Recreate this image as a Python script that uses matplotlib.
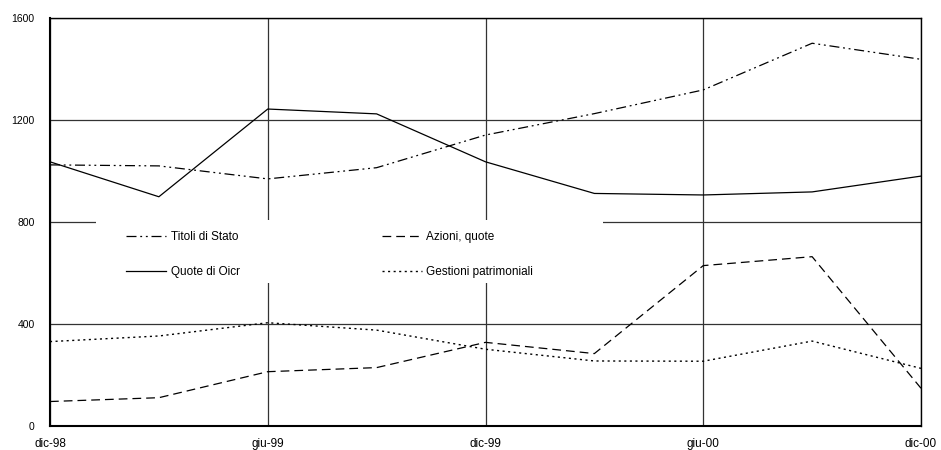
import matplotlib
matplotlib.use("Agg")
import matplotlib.pyplot as plt
from matplotlib.patches import Rectangle

# quarterly observations, dic-98 .. dic-00
quarters = ["dic-98", "mar-99", "giu-99", "set-99", "dic-99",
            "mar-00", "giu-00", "set-00", "dic-00"]
tick_labels = ["dic-98", "giu-99", "dic-99", "giu-00", "dic-00"]

titoli_stato = [1024, 1020, 969, 1013, 1141, 1225, 1318, 1501, 1438]
azioni_quote = [96, 111, 213, 229, 328, 284, 629, 664, 148]
quote_oicr = [1036, 899, 1243, 1224, 1036, 912, 906, 918, 980]
gestioni = [331, 353, 405, 376, 301, 255, 254, 333, 226]

plt.rcParams["font.family"] = ["Liberation Sans", "DejaVu Sans"]

W, H = 941, 450
fig = plt.figure(figsize=(W / 100, H / 100), dpi=100)
ax_l, ax_b, ax_w, ax_h = 50, 24, 871, 408
ax = fig.add_axes([ax_l / W, ax_b / H, ax_w / W, ax_h / H])


def to_axes(px, py):
    # pixel position (top-left origin) -> axes fraction
    return (px - ax_l) / ax_w, (H - ax_b - py) / ax_h


x = list(range(len(quarters)))
l_titoli, = ax.plot(x, titoli_stato, color="black", lw=0.9,
                    linestyle=(0, (8, 3, 1.5, 3, 1.5, 3)), label="Titoli di Stato")
l_azioni, = ax.plot(x, azioni_quote, color="black", lw=0.9,
                    linestyle=(0, (7, 4)), label="Azioni, quote")
l_oicr, = ax.plot(x, quote_oicr, color="black", lw=0.9,
                  linestyle="-", label="Quote di Oicr")
l_gest, = ax.plot(x, gestioni, color="black", lw=1.0,
                  linestyle=(0, (1.5, 2.5)), label="Gestioni patrimoniali")

ax.set_xlim(0, len(quarters) - 1)
ax.set_ylim(0, 1600)
ax.set_yticks([0, 400, 800, 1200, 1600])
ax.set_xticks(x[::2])
ax.set_xticklabels(tick_labels)
ax.tick_params(length=0)
ax.tick_params(axis="x", labelsize=8.5, pad=15)
ax.tick_params(axis="y", labelsize=7.5, pad=11)
# keep the date labels on a common baseline
for lab in ax.get_xticklabels():
    lab.set_verticalalignment("baseline")
ax.grid(True, color="#333333", lw=0.9)
ax.set_axisbelow(True)
for s in ax.spines.values():
    s.set_color("black")
    s.set_linewidth(1.0)
ax.spines["left"].set_linewidth(1.5)
ax.spines["bottom"].set_linewidth(1.5)

# white panel behind the legend, hiding the grid there
x0, y0 = to_axes(96, 283)
x1, y1 = to_axes(603, 220)
ax.add_patch(Rectangle((x0, y0), x1 - x0, y1 - y0, transform=ax.transAxes,
                       facecolor="white", edgecolor="none", zorder=1.5))

leg = ax.legend(handles=[l_titoli, l_oicr, l_azioni, l_gest], ncol=2,
                loc="upper left", bbox_to_anchor=to_axes(126, 231),
                borderaxespad=0, borderpad=0, frameon=False, fontsize=8.5,
                handlelength=3.4, handletextpad=0.4, labelspacing=1.95,
                columnspacing=12.0)

fig.savefig("out.png", dpi=100)
